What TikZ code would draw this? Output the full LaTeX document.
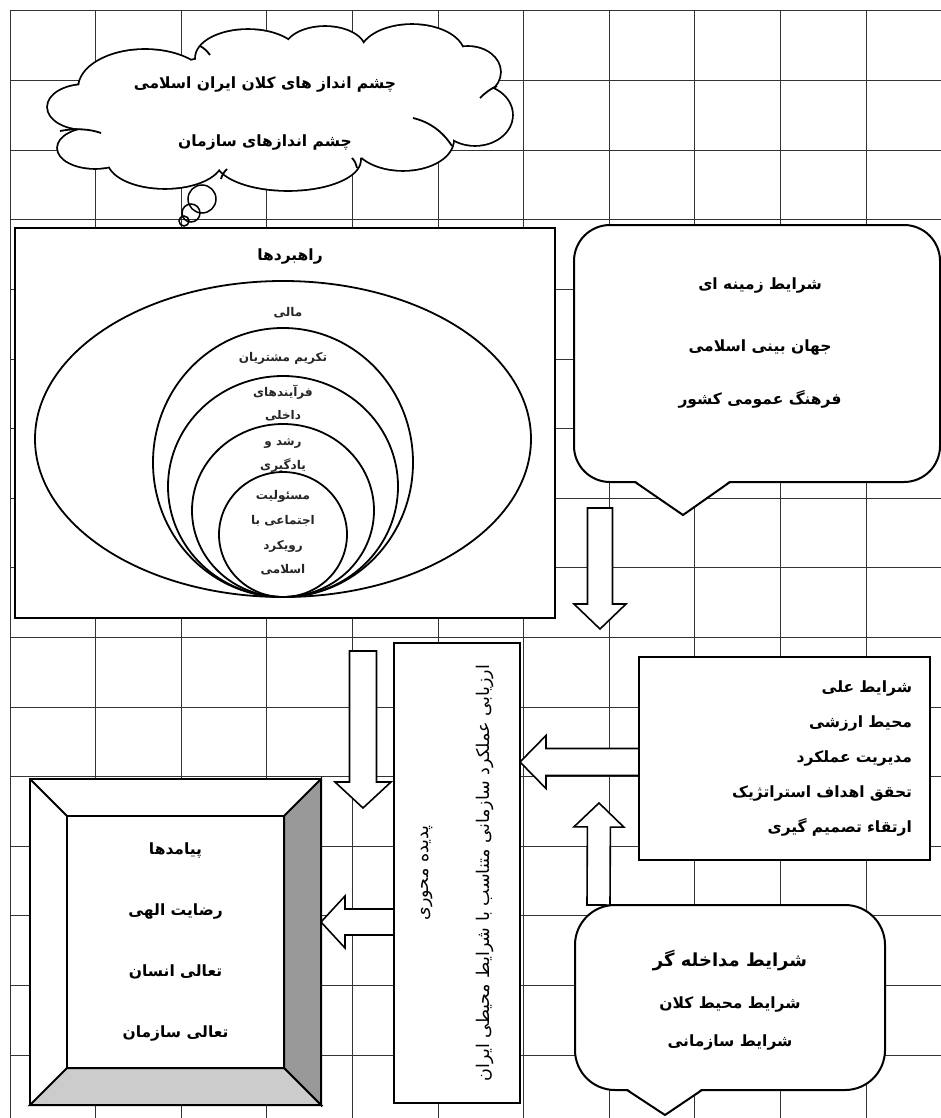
\documentclass[tikz,border=0pt]{standalone}
\usepackage{fontspec}
\newfontfamily\fa[Script=Arabic]{DejaVu Sans}
\TeXXeTstate=1
\usetikzlibrary{positioning,calc,shapes.geometric}
\newcommand{\fatxt}[1]{\beginR #1\endR}
\newcommand{\blockarrow}[5]{%
	\coordinate (hb) at ($(#2)!#5!(#1)$);
	\draw[blockarr] ($(#1)!#3!90:(#2)$) -- ($(hb)!#3!-90:(#1)$) -- ($(hb)!#4!-90:(#1)$) -- (#2)
		-- ($(hb)!#4!90:(#1)$) -- ($(hb)!#3!90:(#1)$) -- ($(#1)!#3!-90:(#2)$) -- cycle;
}
\newcommand{\cloudparts}{%
	(85,107) ellipse [x radius=37, y radius=22]
	(95,148) ellipse [x radius=37, y radius=20]
	(165,160) ellipse [x radius=57, y radius=28]
	(288,160) ellipse [x radius=72, y radius=30]
	(403,140) ellipse [x radius=50, y radius=30]
	(475,115) ellipse [x radius=37, y radius=30]
	(468,72) ellipse [x radius=32, y radius=25]
	(412,55) ellipse [x radius=52, y radius=30]
	(325,50) ellipse [x radius=40, y radius=23]
	(248,58) ellipse [x radius=52, y radius=28]
	(145,88) ellipse [x radius=66, y radius=38]
	(282,108) ellipse [x radius=170, y radius=56]
	(150,130) ellipse [x radius=60, y radius=30]
	(440,100) ellipse [x radius=40, y radius=30]}

\begin{document}
\begin{tikzpicture}[x=1pt, y=-1pt,
				gridline/.style={draw=black!80, line width=1pt},
				box/.style={rectangle, draw=black, line width=2pt, fill=white, outer sep=0pt},
				bubble/.style={rectangle, rounded corners=36pt, draw=black, line width=2pt, fill=white, outer sep=0pt},
				ring/.style={ellipse, draw=black, line width=1.8pt, inner sep=0pt, outer sep=0pt, anchor=south},
				puff/.style={circle, draw=black, line width=1.5pt, inner sep=0pt},
				txt/.style={font=\fa\bfseries\fontsize{15.5}{18}\selectfont, align=center},
				ringlabel/.style={font=\fa\bfseries\fontsize{12}{14}\selectfont, align=center, text=black!85},
				bevel/.style={draw=black, line width=2pt, line join=miter},
				blockarr/.style={draw=black, fill=white, line width=1.6pt, line join=miter}
			]
			\useasboundingbox (0,0) rectangle (941,1118);
			\foreach \i in {0,...,10}
				\draw[gridline] ({10+85.6*\i},11) -- ({10+85.6*\i},1118);
			\foreach \j in {0,...,15}
				\draw[gridline] (10,{11+69.6*\j}) -- (941,{11+69.6*\j});

			\draw[line width=3.6pt] \cloudparts;
			\fill[white] \cloudparts;
			\begin{scope}[line width=1.8pt]
			\draw (60,131) .. controls (75,128) and (90,129) .. (101,133);
			\draw (413,118) .. controls (430,122) and (443,132) .. (452,146);
			\draw (480,98) .. controls (485,93) and (490,89) .. (497,86);
			\draw (200,46) .. controls (204,48) and (207,51) .. (210,55);
			\draw (221,179) .. controls (222,175) and (224,172) .. (227,169);
			\draw (357,168) .. controls (356,164) and (355,161) .. (352,158);
			\end{scope}
			\node[txt] (vision) at (265,114) {\fatxt{چشم انداز های کلان ایران اسلامی}\\[40pt]\fatxt{چشم اندازهای سازمان}};
			\node[puff, minimum size=28pt] (thinkbig) at (202,199) {};
			\node[puff, minimum size=18pt] (thinkmid) at (191,213) {};
			\node[puff, minimum size=10pt] (thinksmall) at (184,221) {};

			\node[box, minimum width=540pt, minimum height=390pt] (strategies) at (285,423) {};
			\node[txt] (strategiestitle) at (290,257) {\fatxt{راهبردها}};
			\coordinate (base) at (283,597);
			\node[ring, minimum width=496pt, minimum height=316pt] (finance) at (base) {};
			\node[ring, minimum width=260pt, minimum height=269pt] (customers) at (base) {};
			\node[ring, minimum width=230pt, minimum height=221pt] (process) at (base) {};
			\node[ring, minimum width=182pt, minimum height=173pt] (growth) at (base) {};
			\node[ring, minimum width=128pt, minimum height=125pt] (social) at (base) {};
			\node[ringlabel] (financetext) at (288,313) {\fatxt{مالی}};
			\node[ringlabel] (customerstext) at (283,358) {\fatxt{تکریم مشتریان}};
			\node[ringlabel] (processtext) at (283,403) {\fatxt{فرآیندهای}\\[9pt]\fatxt{داخلی}};
			\node[ringlabel] (growthtext) at (283,455) {\fatxt{رشد و}\\[10pt]\fatxt{یادگیری}};
			\node[ringlabel] (socialtext) at (283,533) {\fatxt{مسئولیت}\\[11pt]\fatxt{اجتماعی با}\\[11pt]\fatxt{رویکرد}\\[10pt]\fatxt{اسلامی}};

			\node[bubble, minimum width=366pt, minimum height=257pt] (context) at (757,353.5) {};
			\fill[white] ($(context.south west)+(61,-1.5)$) -- ($(context.south west)+(109,33)$) -- ($(context.south west)+(156,-1.5)$) -- cycle;
			\draw[bevel] ($(context.south west)+(61,0)$) -- ($(context.south west)+(109,33)$) -- ($(context.south west)+(156,0)$);
			\node[txt] (contexttext) at (760,343) {\fatxt{شرایط زمینه ای}\\[44pt]\fatxt{جهان بینی اسلامی}\\[35pt]\fatxt{فرهنگ عمومی کشور}};

			\node[box, rotate=90, minimum width=460pt, minimum height=126pt, align=center,
				font=\fa\fontsize{17.5}{21}\selectfont] (core) at (457,873)
				{\fatxt{پدیده محوری}\\[40pt]\fatxt{ارزیابی عملکرد سازمانی متناسب با شرایط محیطی ایران}};

			\node[box, minimum width=291pt, minimum height=203pt, text width=255pt, inner xsep=18pt,
				font=\fa\bfseries\fontsize{15.5}{18}\selectfont, align=right] (causal) at (784.5,758.5)
				{\fatxt{شرایط علی}\hspace*{84pt}\\[17pt]\fatxt{محیط ارزشی}\\[17pt]\fatxt{مدیریت عملکرد}\\[17pt]\fatxt{تحقق اهداف استراتژیک}\\[17pt]\fatxt{ارتقاء تصمیم گیری}};

			\node[bubble, rounded corners=40pt, minimum width=310pt, minimum height=185pt] (intervening) at (730,997.5) {};
			\fill[white] ($(intervening.south west)+(52,-1.5)$) -- ($(intervening.south west)+(90,25)$) -- ($(intervening.south west)+(127,-1.5)$) -- cycle;
			\draw[bevel] ($(intervening.south west)+(52,0)$) -- ($(intervening.south west)+(90,25)$) -- ($(intervening.south west)+(127,0)$);
			\node[txt] (interveningtext) at (730,1000) {{\fontsize{18}{21}\selectfont\fatxt{شرایط مداخله گر}}\\[24pt]\fatxt{شرایط محیط کلان}\\[20pt]\fatxt{شرایط سازمانی}};

			\node[box, minimum width=291pt, minimum height=326pt] (outcomesframe) at (175.5,942) {};
			\node[box, minimum width=217pt, minimum height=252pt, txt] (outcomes) at (175.5,942)
				{\fatxt{پیامدها}\\[43pt]\fatxt{رضایت الهی}\\[43pt]\fatxt{تعالی انسان}\\[43pt]\fatxt{تعالی سازمان}};
			\filldraw[bevel, fill=black!40] (outcomes.north east) -- (outcomesframe.north east) -- (outcomesframe.south east) -- (outcomes.south east) -- cycle;
			\filldraw[bevel, fill=black!20] (outcomes.south west) -- (outcomes.south east) -- (outcomesframe.south east) -- (outcomesframe.south west) -- cycle;
			\draw[bevel] (outcomes.north west) -- (outcomesframe.north west);

			\coordinate (contextout) at (600,508);
			\coordinate (contextin) at (600,629);
			\coordinate (strategiesout) at (363,651);
			\coordinate (strategiesin) at (363,808);
			\coordinate (interveningin) at (599,803);
			\blockarrow{contextout}{contextin}{12.5pt}{26pt}{25pt}
			\blockarrow{strategiesout}{strategiesin}{13.5pt}{28pt}{26pt}
			\blockarrow{causal.west |- 0,762}{core.south |- 0,762}{13.5pt}{26.5pt}{26pt}
			\blockarrow{$(intervening.north west)+(23.5,0)$}{interveningin}{11.5pt}{25pt}{24pt}
			\blockarrow{core.north |- 0,922}{outcomesframe.east |- 0,922}{13pt}{26pt}{24pt}
			\end{tikzpicture}
\end{document}
